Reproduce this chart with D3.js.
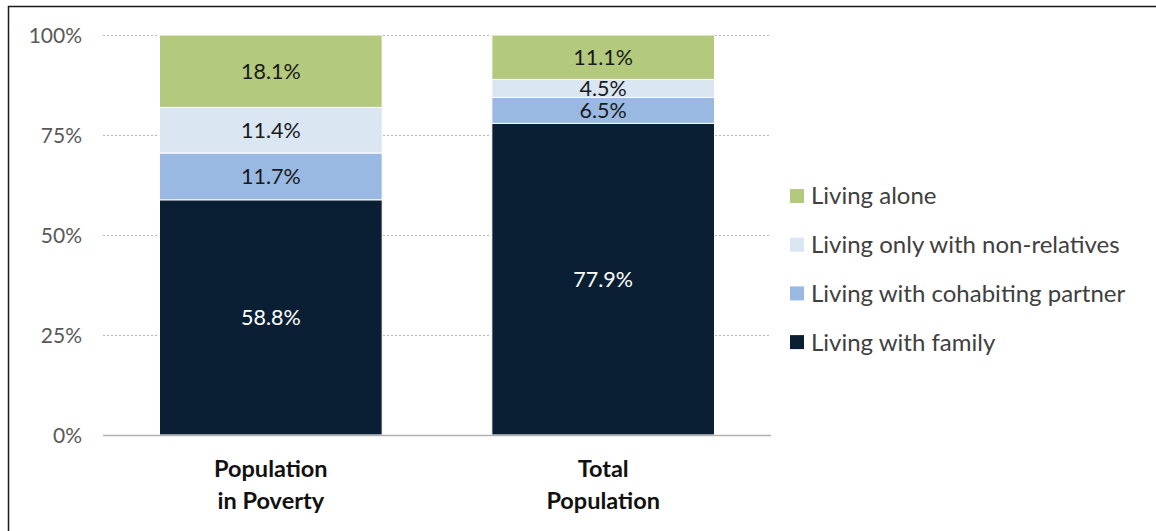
<!DOCTYPE html>
<html><head><meta charset="utf-8">
<script src="https://cdn.jsdelivr.net/npm/d3@7"></script>
<style>
html,body{margin:0;padding:0;background:#fff;}
svg text{font-family:"Lato","Open Sans",sans-serif;}
</style></head>
<body><svg id="c" width="1156" height="531"></svg>
<script>
const categories = ["Population\nin Poverty", "Total\nPopulation"];
const seriesNames = ["Living with family", "Living with cohabiting partner", "Living only with non-relatives", "Living alone"];
const livingWithFamily = [58.8, 77.9];
const livingWithPartner = [11.7, 6.5];
const livingWithNonRelatives = [11.4, 4.5];
const livingAlone = [18.1, 11.1];
const tickValues = [0, 25, 50, 75, 100];
const colors = ["#0a1f33", "#99b9e2", "#dbe6f3", "#b2c97e"];
const labelColors = ["#ffffff", "#1a1a1a", "#1a1a1a", "#1a1a1a"];

const series = [livingWithFamily, livingWithPartner, livingWithNonRelatives, livingAlone];
const rows = categories.map((c, i) => {
  const r = {cat: c};
  seriesNames.forEach((s, j) => r[s] = series[j][i]);
  return r;
});
const stacked = d3.stack().keys(seriesNames)(rows);

const svg = d3.select("#c");
// frame
svg.append("rect").attr("x", 8.5).attr("y", 6.5).attr("width", 1160).attr("height", 540)
  .attr("fill", "none").attr("stroke", "#1a1a1a").attr("stroke-width", 1.5);

const x = d3.scaleBand().domain(categories).range([103, 771]).paddingInner(0.33).paddingOuter(0.17);
const y = d3.scaleLinear().domain([0, 100]).range([435, 35]);

// gridlines
const grid = svg.append("g");
grid.selectAll("line").data(tickValues.filter(t => t > 0)).join("line")
  .attr("x1", 103).attr("x2", 771).attr("y1", d => y(d) + 0.5).attr("y2", d => y(d) + 0.5)
  .attr("stroke", "#b8b8b8").attr("stroke-width", 1).attr("stroke-dasharray", "2,2");

// y axis labels
const yAxis = d3.axisLeft(y).tickValues(tickValues).tickFormat(d => d + "%").tickSize(0).tickPadding(0);
const ya = svg.append("g").attr("transform", "translate(82,0)").call(yAxis);
ya.select(".domain").remove();
ya.selectAll("text").attr("fill", "#595959").style("font-size", "21px").attr("dy", "0.35em");

// bars
const layer = svg.append("g").selectAll("g").data(stacked).join("g").attr("fill", (d, i) => colors[i]);
layer.selectAll("rect").data(d => d).join("rect")
  .attr("x", d => x(d.data.cat)).attr("width", x.bandwidth())
  .attr("y", d => y(d[1])).attr("height", d => y(d[0]) - y(d[1]))
  .attr("stroke", "#ffffff").attr("stroke-width", 1);

// labels
stacked.forEach((s, i) => {
  svg.append("g").selectAll("text").data(s).join("text")
    .attr("x", d => x(d.data.cat) + x.bandwidth() / 2)
    .attr("y", d => (y(d[0]) + y(d[1])) / 2)
    .attr("dy", "0.36em").attr("text-anchor", "middle")
    .attr("fill", labelColors[i]).style("font-size", "21.5px")
    .text(d => (d[1] - d[0]).toFixed(1) + "%");
});

// x axis line
svg.append("line").attr("x1", 103).attr("x2", 771).attr("y1", 435.5).attr("y2", 435.5)
  .attr("stroke", "#b3b3b3").attr("stroke-width", 1.5);

// x category labels
const xa = svg.append("g");
categories.forEach(c => {
  const t = xa.append("text").attr("text-anchor", "middle").attr("fill", "#111")
    .style("font-size", "23.5px").style("font-weight", "bold");
  c.split("\n").forEach((line, k) => {
    t.append("tspan").attr("x", x(c) + x.bandwidth() / 2).attr("y", 477 + k * 32).text(line);
  });
});

// legend
const legendOrder = seriesNames.map((s, i) => ({s, c: colors[i]})).reverse();
const lg = svg.append("g").selectAll("g").data(legendOrder).join("g")
  .attr("transform", (d, i) => `translate(790,${196 + i * 48.7})`);
lg.append("rect").attr("x", 0).attr("y", -7).attr("width", 14).attr("height", 14).attr("fill", d => d.c);
lg.append("text").attr("x", 21).attr("dy", "0.35em").attr("fill", "#404040").style("font-size", "24px").text(d => d.s);
</script></body></html>
